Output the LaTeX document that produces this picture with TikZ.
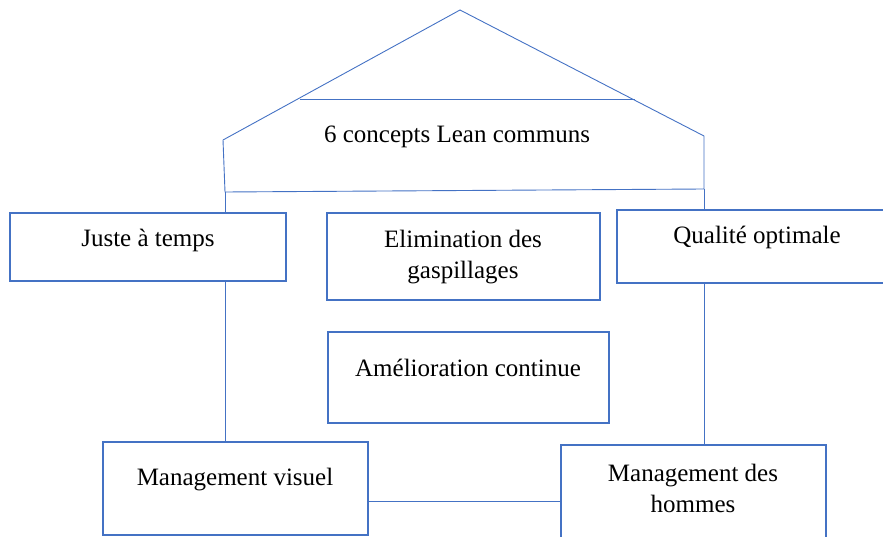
\documentclass[tikz,border=0pt]{standalone}
\usepackage{fontspec}
\setmainfont{Liberation Serif}
\usetikzlibrary{fit}
\definecolor{leanblue}{HTML}{4472C4}
\begin{document}
\begin{tikzpicture}[x=1pt,y=-1pt,
  box/.style={draw=leanblue, line width=1.6pt, inner sep=0pt, fill=white},
  wire/.style={draw=leanblue, line width=0.9pt},
  lbl/.style={font=\fontsize{25}{31}\selectfont, align=center, inner sep=0pt}]
\useasboundingbox (0,0) rectangle (883,537);
% house outline
\coordinate (apex) at (460,10);
\coordinate (le) at (223,140);
\coordinate (re) at (704,136);
\coordinate (rl) at (300,99);
\coordinate (rr) at (635,99);
\coordinate (bl) at (225,192);
\coordinate (br) at (704,189);
\draw[wire] (le) -- (apex) -- (re);
\draw[wire] (rl) -- (rr);
\draw[wire] (le) -- (bl) -- (br) -- (re);
\node[lbl] (roof) at (457,137) {6 concepts Lean communs};
% concept boxes
\node[box, fit={(10,213) (286,281)}] (jat) {};
\node[box, fit={(327,213) (600,300)}] (elim) {};
\node[box, fit={(617,210) (898,283)}] (qo) {};
\node[box, fit={(328,332) (609,423)}] (amel) {};
\node[box, fit={(103,442) (368,535)}] (mv) {};
\node[box, fit={(561,445) (826,550)}] (mh) {};
\node[lbl] at (148,240) {Juste à temps};
\node[lbl] at (463,257) {Elimination des\\gaspillages};
\node[lbl] at (757,237) {Qualité optimale};
\node[lbl] at (468,368) {Amélioration continue};
\node[lbl] at (235,480) {Management visuel};
\node[lbl] at (693,488) {Management des\\hommes};
% connectors
\draw[wire] (bl) -- (bl |- jat.north);
\draw[wire] (br) -- (br |- qo.north);
\draw[wire] (jat.south -| bl) -- (mv.north -| bl);
\draw[wire] (qo.south -| br) -- (mh.north -| br);
\draw[wire] (mv.east |- 0,501) -- (mh.west |- 0,501);
\end{tikzpicture}
\end{document}
